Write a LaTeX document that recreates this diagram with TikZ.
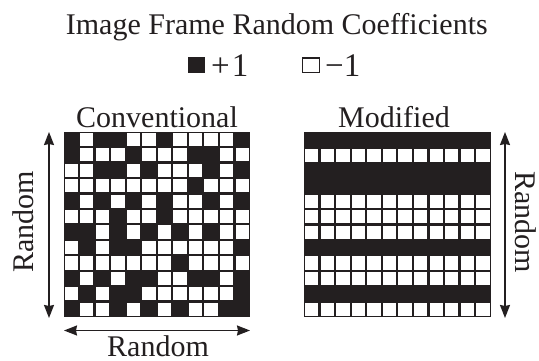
\documentclass[tikz,border=0pt]{standalone}
\usepackage{fontspec}
\setmainfont{Liberation Serif}
\usetikzlibrary{arrows.meta}
\definecolor{ink}{HTML}{231F20}
\tikzset{
  lbl/.style={inner sep=0pt, anchor=base, text=ink, font=\fontsize{30}{34}\selectfont},
  leg/.style={inner sep=0pt, anchor=base west, text=ink, font=\fontsize{33}{36}\selectfont},
  dblarrow/.style={draw=ink, line width=1.5pt, {Stealth[length=13pt,width=10pt,inset=1pt]}-{Stealth[length=13pt,width=10pt,inset=1pt]}},
  cellw/.style={fill=white},
}
\begin{document}
\begin{tikzpicture}[x=1pt,y=-1pt]
\useasboundingbox (0,0) rectangle (539,361);
% title and legend
\node[lbl] (title) at (276.8,34.5) {Image Frame Random Coefficients};
\node[inner sep=0pt, fill=ink, minimum width=17pt, minimum height=16pt, anchor=north west] (plusbox) at (188,56.5) {};
\node[leg] (plus) at (211,77) {+\kern2pt1};
\node[inner sep=0pt, draw=ink, line width=1.1pt, fill=white, minimum width=17pt, minimum height=14.5pt, anchor=north west] (minusbox) at (302,57.5) {};
\node[leg] (minus) at (325,77) {−1};
\node[lbl] (conv) at (157,128) {Conventional};
\node[lbl] (mod) at (394,128) {Modified};
% conventional grid
\fill[ink] (63.5,131.7) rectangle (250,317);
\foreach \row [count=\r] in {
 {1,0,1,1,0,0,1,0,0,0,0,1},
 {1,0,0,0,1,0,0,0,1,1,0,0},
 {0,0,1,1,0,1,0,0,0,1,0,1},
 {0,0,0,0,0,0,0,0,1,0,0,0},
 {1,0,1,0,1,0,1,0,0,1,0,1},
 {0,0,0,1,0,0,1,0,0,0,0,0},
 {1,1,0,1,0,1,0,1,0,1,0,0},
 {0,1,0,1,1,0,0,0,0,0,0,1},
 {0,0,0,0,0,0,0,1,0,0,0,0},
 {1,0,1,0,1,1,0,0,1,1,0,1},
 {0,1,0,1,1,0,0,0,0,0,0,1},
 {1,0,0,1,0,1,0,1,0,0,1,1}} {
  \foreach \v [count=\c] in \row {
    \ifnum\v=0
      \fill[cellw] ({63.5+(\c-1)*15.542+1.1},{131.7+(\r-1)*15.442+1.1}) rectangle ++(13.34,13.24);
    \fi
  }
}
% modified grid
\fill[ink] (304,132) rectangle (490.7,317);
\foreach \v [count=\r] in {1,0,1,1,0,0,0,1,0,0,1,0} {
  \ifnum\v=0
    \foreach \c in {1,...,12} {
      \fill[cellw] ({304+(\c-1)*15.558+1.1},{132+(\r-1)*15.417+1.1}) rectangle ++(13.36,13.22);
    }
  \fi
}
% arrows
\coordinate (la) at (49,132);
\coordinate (lb) at (49,318);
\coordinate (ra) at (505,132);
\coordinate (rb) at (505,318);
\coordinate (ba) at (64,330.5);
\coordinate (bb) at (250,330.5);
\draw[dblarrow] (la) -- (lb);
\draw[dblarrow] (ra) -- (rb);
\draw[dblarrow] (ba) -- (bb);
\node[lbl, rotate=90] (lrand) at (33.5,222) {Random};
\node[lbl, rotate=-90] (rrand) at (515.5,222) {Random};
\node[lbl] (brand) at (158,356) {Random};
\end{tikzpicture}
\end{document}
